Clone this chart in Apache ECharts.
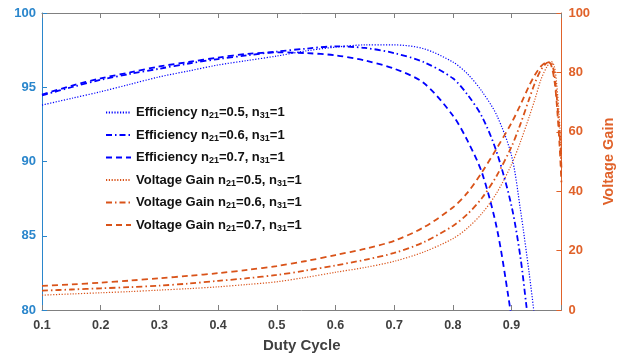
<!DOCTYPE html>
<html>
<head>
<meta charset="utf-8">
<script src="https://cdn.jsdelivr.net/npm/echarts@6/dist/echarts.min.js"></script>
<style>html,body{margin:0;padding:0;background:#fff}#c{width:624px;height:358px}</style>
</head>
<body>
<div id="c"></div>
<script>
// ---- data ----
const xTickLabels = ['0.1','0.2','0.3','0.4','0.5','0.6','0.7','0.8','0.9'];
const effDuty05 = [0.1,0.15,0.2,0.25,0.3,0.35,0.4,0.45,0.5,0.55,0.6,0.65,0.7,0.75,0.8,0.825,0.85,0.875,0.9,0.915,0.93,0.94];
const eff05     = [93.8,94.25,94.7,95.2,95.7,96.1,96.5,96.8,97.1,97.45,97.7,97.85,97.85,97.6,96.7,95.9,94.7,93.1,90.4,86.8,82.5,79.3];
const effDuty06 = [0.1,0.15,0.2,0.25,0.3,0.35,0.4,0.45,0.5,0.55,0.6,0.65,0.7,0.75,0.8,0.825,0.85,0.875,0.9,0.915,0.925,0.93];
const eff06     = [94.45,95.0,95.5,95.9,96.25,96.6,96.9,97.15,97.4,97.6,97.75,97.65,97.3,96.7,95.6,94.5,93.0,90.6,87.0,83.6,80.4,78.8];
const effDuty07 = [0.1,0.15,0.2,0.25,0.3,0.35,0.4,0.45,0.5,0.55,0.6,0.65,0.7,0.75,0.8,0.825,0.85,0.875,0.895,0.902];
const eff07     = [94.5,95.1,95.6,96.0,96.4,96.7,97.0,97.25,97.35,97.3,97.15,96.8,96.25,95.3,93.1,91.4,89.2,85.5,80.8,78.8];
const vgDuty05  = [0.1,0.15,0.2,0.25,0.3,0.35,0.4,0.45,0.5,0.55,0.6,0.65,0.7,0.75,0.8,0.825,0.85,0.875,0.9,0.915,0.93,0.94,0.95,0.96,0.968,0.973,0.977,0.981,0.985];
const vg05      = [5.0,5.4,5.8,6.2,6.7,7.2,7.8,8.6,9.5,11.0,12.7,14.3,16.4,19.5,24.0,27.6,32.6,39.5,49.0,56.5,65.0,71.0,77.5,81.8,83.6,82.0,76.0,66.0,52.0];
const vgDuty06  = [0.1,0.15,0.2,0.25,0.3,0.35,0.4,0.45,0.5,0.55,0.6,0.65,0.7,0.75,0.8,0.825,0.85,0.875,0.9,0.915,0.93,0.94,0.95,0.96,0.966,0.971,0.975,0.979,0.983,0.985];
const vg06      = [6.5,6.9,7.3,7.7,8.2,8.9,9.8,10.7,11.8,13.3,15.0,16.9,19.2,22.8,28.3,32.3,37.8,45.3,55.0,62.5,71.0,76.5,80.8,83.2,83.5,81.5,76.0,67.0,56.0,48.0];
const vgDuty07  = [0.1,0.15,0.2,0.25,0.3,0.35,0.4,0.45,0.5,0.55,0.6,0.65,0.7,0.75,0.8,0.825,0.85,0.875,0.9,0.915,0.93,0.94,0.95,0.958,0.964,0.969,0.974,0.978,0.982,0.985];
const vg07      = [8.1,8.6,9.2,9.9,10.7,11.5,12.4,13.5,14.8,16.5,18.5,20.6,23.3,27.8,34.5,39.5,46.5,54.5,63.0,69.0,75.5,79.2,82.0,83.3,83.4,81.5,76.0,67.0,55.0,43.0];
const seriesNames = [
  'Efficiency n21=0.5, n31=1','Efficiency n21=0.6, n31=1','Efficiency n21=0.7, n31=1',
  'Voltage Gain n21=0.5, n31=1','Voltage Gain n21=0.6, n31=1','Voltage Gain n21=0.7, n31=1'
];

const BLUE = '#0000FF', ORANGE = '#D95319';
const LBLUE = '#2a86cc', LORANGE = '#E0622A', GRAY = '#404040';
const FONT = 'Liberation Sans, Arial, sans-serif';
const zip = (xs, ys) => xs.map((x, i) => [x, ys[i]]);
const DOT = [1.2, 1.6], DASHDOT = [6, 3, 1.5, 3], DASH = [6, 4];

function mk(name, xs, ys, color, dash, width, yIdx) {
  return {
    name, type: 'line', xAxisIndex: 0, yAxisIndex: yIdx,
    data: zip(xs, ys), showSymbol: false, symbol: 'none', smooth: 0.3, clip: true,
    lineStyle: { color, width, type: dash }, itemStyle: { color }
  };
}

const chart = echarts.init(document.getElementById('c'), null, { renderer: 'canvas' });
chart.setOption({
  animation: false,
  backgroundColor: '#fff',
  grid: { left: 42, right: 58, top: 13, bottom: 48 },
  legend: {
    orient: 'vertical', left: 100, top: 101,
    itemWidth: 25, itemHeight: 12, itemGap: 8,
    data: seriesNames,
    itemStyle: { opacity: 0 },
    formatter: n => n.replace(/n(\d\d)=/g, 'n{s|$1}='),
    textStyle: {
      fontFamily: FONT, fontWeight: 'bold', fontSize: 13, color: '#111',
      rich: { s: { fontFamily: FONT, fontWeight: 'bold', fontSize: 9, color: '#111', padding: [7, 0, 0, 0] } }
    }
  },
  xAxis: [{
    type: 'value', min: 0.1, max: 0.985, interval: 0.1, position: 'bottom',
    name: 'Duty Cycle', nameLocation: 'middle', nameGap: 28,
    nameTextStyle: { fontFamily: FONT, fontWeight: 'bold', fontSize: 15, color: GRAY },
    axisLine: { show: true, lineStyle: { color: '#808080', width: 1 } },
    axisTick: { show: true, inside: true, length: 5, lineStyle: { color: '#808080' } },
    axisLabel: {
      margin: 9, fontFamily: FONT, fontWeight: 'bold', fontSize: 12.5, color: GRAY,
      formatter: v => { const i = Math.round((v - 0.1) / 0.1); return Math.abs(v - (0.1 + i * 0.1)) < 1e-6 ? (xTickLabels[i] || '') : ''; }
    },
    splitLine: { show: false }
  }, {
    type: 'value', min: 0.1, max: 0.985, interval: 0.1, position: 'top',
    axisLine: { show: true, lineStyle: { color: '#808080', width: 1 } },
    axisTick: { show: true, inside: true, length: 5, lineStyle: { color: '#808080' } },
    axisLabel: { show: false }, splitLine: { show: false }
  }],
  yAxis: [{
    type: 'value', min: 80, max: 100, interval: 5, position: 'left',
    axisLine: { show: true, lineStyle: { color: LBLUE, width: 1 } },
    axisTick: { show: true, inside: true, length: 5, lineStyle: { color: LBLUE } },
    axisLabel: { margin: 6, fontFamily: FONT, fontWeight: 'bold', fontSize: 13, color: LBLUE },
    splitLine: { show: false }
  }, {
    type: 'value', min: 0, max: 100, interval: 20, position: 'right',
    name: 'Voltage Gain', nameLocation: 'middle', nameGap: 35, nameRotate: 90,
    nameTextStyle: { fontFamily: FONT, fontWeight: 'bold', fontSize: 14.5, color: LORANGE },
    axisLine: { show: true, lineStyle: { color: LORANGE, width: 1 } },
    axisTick: { show: true, inside: true, length: 5, lineStyle: { color: LORANGE } },
    axisLabel: { margin: 7, fontFamily: FONT, fontWeight: 'bold', fontSize: 13, color: LORANGE },
    splitLine: { show: false }
  }],
  series: [
    mk(seriesNames[0], effDuty05, eff05, BLUE, DOT, 1.2, 0),
    mk(seriesNames[1], effDuty06, eff06, BLUE, DASHDOT, 1.8, 0),
    mk(seriesNames[2], effDuty07, eff07, BLUE, DASH, 1.8, 0),
    mk(seriesNames[3], vgDuty05, vg05, ORANGE, DOT, 1.2, 1),
    mk(seriesNames[4], vgDuty06, vg06, ORANGE, DASHDOT, 1.8, 1),
    mk(seriesNames[5], vgDuty07, vg07, ORANGE, DASH, 1.8, 1)
  ]
});
</script>
</body>
</html>
